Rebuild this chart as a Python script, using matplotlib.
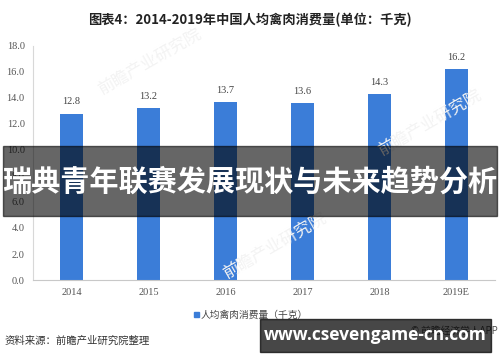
import matplotlib.pyplot as plt
from matplotlib.patches import Rectangle

# 数据
years = ['2014', '2015', '2016', '2017', '2018', '2019E']
consumo = [12.8, 13.2, 13.7, 13.6, 14.3, 16.2]
yticks = [0, 2, 4, 6, 8, 10, 12, 14, 16, 18]

titulo = '图表4：2014-2019年中国人均禽肉消费量(单位：千克)'
leyenda = '人均禽肉消费量（千克）'
fuente = '资料来源：前瞻产业研究院整理'
banner = '瑞典青年联赛发展现状与未来趋势分析'
web = 'www.csevengame-cn.com'

cjk = ['Noto Sans CJK SC', 'DejaVu Sans']
serif = ['Liberation Serif', 'DejaVu Serif']
bar_color = '#3b7dd8'

fig = plt.figure(figsize=(5, 3.62), dpi=100)
ax = fig.add_axes([0.066, 0.2265, 0.924, 0.6465])

x = range(len(years))
ax.bar(x, consumo, width=0.31, color=bar_color, label=leyenda)
for xi, v in zip(x, consumo):
    ax.text(xi, v + 0.55, f'{v}', ha='center', va='bottom', fontsize=7.5,
            family=serif, color='#444444', zorder=3)

ax.set_xlim(-0.5, len(years) - 0.5)
ax.set_ylim(0, 18)
ax.set_yticks(yticks)
ax.set_yticklabels([f'{t:.1f}' for t in yticks], family=serif, fontsize=7.5, color='#555555')
ax.set_xticks(list(x))
ax.set_xticklabels(years, family=serif, fontsize=7.5, color='#555555')
ax.tick_params(length=0, pad=6)
for s in ['top', 'right']:
    ax.spines[s].set_visible(False)
ax.spines['left'].set_color('#d8d8d8')
ax.spines['bottom'].set_color('#c8c8c8')

# marcas de agua (muy tenues)
for (wx, wy) in [(0.3, 0.83), (0.86, 0.66), (0.55, 0.32)]:
    fig.text(wx, wy, '前瞻产业研究院', family=cjk, fontsize=12, rotation=30,
             color='#f3f3f3', ha='center', va='center', zorder=0)

fig.text(0.5, 0.945, titulo, family=cjk, fontsize=9.5, fontweight='bold',
         ha='center', va='center', color='#222222')

# leyenda
fig.patches.append(Rectangle((0.387, 0.123), 0.011, 0.016, transform=fig.transFigure,
                             color=bar_color, figure=fig))
fig.text(0.402, 0.131, leyenda, family=cjk, fontsize=7, ha='left', va='center', color='#444444')

fig.text(0.01, 0.06, fuente, family=cjk, fontsize=7.5, ha='left', va='center', color='#333333')
fig.text(0.995, 0.085, '© 前瞻经济学人APP', family=cjk, fontsize=7, ha='right', va='center',
         color='#555555')

# franjas superpuestas
fig.patches.append(Rectangle((0.006, 0.403), 0.988, 0.194, transform=fig.transFigure,
                             color='black', alpha=0.6, figure=fig, zorder=5))
fig.text(0.5, 0.497, banner, family=cjk, fontsize=21, fontweight='bold',
         ha='center', va='center', color='white', zorder=6)

fig.patches.append(Rectangle((0.52, 0.028), 0.462, 0.091, transform=fig.transFigure,
                             color='black', alpha=0.72, figure=fig, zorder=5))
fig.text(0.751, 0.075, web, family=['Open Sans', 'DejaVu Sans'], fontsize=12.5,
         fontweight='bold', ha='center', va='center', color='white', zorder=6)

plt.savefig('out.png', dpi=100)
